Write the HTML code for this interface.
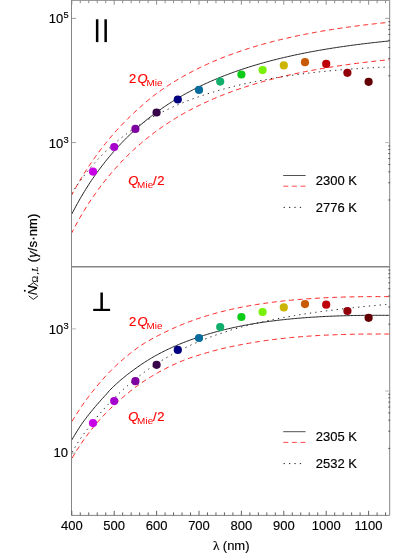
<!DOCTYPE html>
<html><head><meta charset="utf-8"><title>plot</title><style>html,body{margin:0;padding:0;background:#fff}body{width:415px;height:554px;overflow:hidden}</style></head><body>
<svg width="415" height="554" viewBox="0 0 415 554" style="display:block;will-change:transform;font-family:'Liberation Sans',sans-serif">
<rect width="415" height="554" fill="#fff"/>
<defs><clipPath id="ct"><rect x="71.5" y="0" width="318.2" height="266.7"/></clipPath><clipPath id="cb"><rect x="71.5" y="266.7" width="318.2" height="248.7"/></clipPath></defs>
<g clip-path="url(#ct)" fill="none">
<path d="M63.32,211.62 L64.72,208.72 L66.12,205.88 L67.52,203.09 L68.93,200.35 L70.33,197.66 L71.73,195.01 L73.13,192.41 L74.53,189.86 L75.93,187.35 L77.34,184.89 L78.74,182.46 L80.14,180.08 L81.54,177.74 L82.94,175.45 L84.34,173.19 L85.74,170.98 L87.15,168.81 L88.55,166.67 L89.95,164.57 L91.35,162.50 L92.75,160.47 L94.15,158.47 L95.55,156.51 L96.96,154.58 L98.36,152.68 L99.76,150.82 L101.16,148.98 L102.56,147.17 L103.96,145.39 L105.37,143.64 L106.77,141.91 L108.17,140.20 L109.57,138.51 L110.97,136.85 L112.37,135.21 L113.77,133.60 L115.18,132.01 L116.58,130.45 L117.98,128.90 L119.38,127.38 L120.78,125.88 L122.18,124.41 L123.58,122.95 L124.99,121.52 L126.39,120.11 L127.79,118.71 L129.19,117.34 L130.59,115.99 L131.99,114.65 L133.40,113.34 L134.80,112.04 L136.20,110.76 L137.60,109.48 L139.00,108.20 L140.40,106.93 L141.80,105.67 L143.21,104.42 L144.61,103.19 L146.01,101.97 L147.41,100.77 L148.81,99.59 L150.21,98.44 L151.61,97.31 L153.02,96.21 L154.42,95.14 L155.82,94.10 L157.22,93.07 L158.62,92.06 L160.02,91.07 L161.43,90.08 L162.83,89.11 L164.23,88.15 L165.63,87.21 L167.03,86.28 L168.43,85.36 L169.83,84.45 L171.24,83.56 L172.64,82.68 L174.04,81.81 L175.44,80.95 L176.84,80.10 L178.24,79.26 L179.65,78.44 L181.05,77.62 L182.45,76.82 L183.85,76.03 L185.25,75.24 L186.65,74.47 L188.05,73.71 L189.46,72.95 L190.86,72.21 L192.26,71.48 L193.66,70.75 L195.06,70.04 L196.46,69.33 L197.86,68.64 L199.27,67.95 L200.67,67.27 L202.07,66.60 L203.47,65.93 L204.87,65.28 L206.27,64.64 L207.68,64.00 L209.08,63.37 L210.48,62.75 L211.88,62.13 L213.28,61.53 L214.68,60.93 L216.08,60.34 L217.49,59.75 L218.89,59.18 L220.29,58.61 L221.69,58.04 L223.09,57.49 L224.49,56.94 L225.89,56.40 L227.30,55.86 L228.70,55.33 L230.10,54.81 L231.50,54.29 L232.90,53.78 L234.30,53.28 L235.71,52.78 L237.11,52.29 L238.51,51.80 L239.91,51.32 L241.31,50.85 L242.71,50.38 L244.11,49.92 L245.52,49.46 L246.92,49.01 L248.32,48.56 L249.72,48.12 L251.12,47.69 L252.52,47.26 L253.92,46.83 L255.33,46.41 L256.73,45.99 L258.13,45.58 L259.53,45.18 L260.93,44.78 L262.33,44.38 L263.74,43.99 L265.14,43.60 L266.54,43.22 L267.94,42.84 L269.34,42.47 L270.74,42.10 L272.14,41.73 L273.55,41.37 L274.95,41.01 L276.35,40.66 L277.75,40.31 L279.15,39.97 L280.55,39.63 L281.95,39.29 L283.36,38.96 L284.76,38.63 L286.16,38.31 L287.56,37.99 L288.96,37.67 L290.36,37.35 L291.77,37.04 L293.17,36.74 L294.57,36.43 L295.97,36.13 L297.37,35.84 L298.77,35.55 L300.17,35.26 L301.58,34.97 L302.98,34.69 L304.38,34.41 L305.78,34.13 L307.18,33.86 L308.58,33.59 L309.99,33.32 L311.39,33.06 L312.79,32.80 L314.19,32.54 L315.59,32.28 L316.99,32.03 L318.39,31.78 L319.80,31.54 L321.20,31.29 L322.60,31.05 L324.00,30.81 L325.40,30.58 L326.80,30.34 L328.20,30.11 L329.61,29.89 L331.01,29.66 L332.41,29.44 L333.81,29.22 L335.21,29.00 L336.61,28.79 L338.02,28.57 L339.42,28.36 L340.82,28.16 L342.22,27.95 L343.62,27.75 L345.02,27.55 L346.42,27.35 L347.83,27.15 L349.23,26.96 L350.63,26.77 L352.03,26.58 L353.43,26.39 L354.83,26.20 L356.23,26.02 L357.64,25.84 L359.04,25.66 L360.44,25.48 L361.84,25.31 L363.24,25.14 L364.64,24.96 L366.05,24.79 L367.45,24.63 L368.85,24.46 L370.25,24.30 L371.65,24.14 L373.05,23.98 L374.45,23.82 L375.86,23.66 L377.26,23.51 L378.66,23.36 L380.06,23.20 L381.46,23.06 L382.86,22.91 L384.26,22.76 L385.67,22.62 L387.07,22.47 L388.47,22.33 L389.87,22.19 L391.27,22.06 L392.67,21.92 L394.08,21.79 L395.48,21.65 L396.88,21.52 L398.28,21.39" stroke="#ff2020" stroke-width="1" stroke-dasharray="5 3.65"/>
<path d="M63.32,249.42 L64.72,246.52 L66.12,243.68 L67.52,240.89 L68.93,238.15 L70.33,235.46 L71.73,232.81 L73.13,230.18 L74.53,227.55 L75.93,224.93 L77.34,222.36 L78.74,219.83 L80.14,217.37 L81.54,214.97 L82.94,212.60 L84.34,210.28 L85.74,207.99 L87.15,205.75 L88.55,203.56 L89.95,201.41 L91.35,199.31 L92.75,197.26 L94.15,195.25 L95.55,193.27 L96.96,191.32 L98.36,189.40 L99.76,187.51 L101.16,185.66 L102.56,183.83 L103.96,182.03 L105.37,180.26 L106.77,178.52 L108.17,176.80 L109.57,175.11 L110.97,173.45 L112.37,171.81 L113.77,170.20 L115.18,168.62 L116.58,167.05 L117.98,165.51 L119.38,164.00 L120.78,162.51 L122.18,161.03 L123.58,159.59 L124.99,158.16 L126.39,156.75 L127.79,155.37 L129.19,154.00 L130.59,152.66 L131.99,151.33 L133.40,150.03 L134.80,148.74 L136.20,147.47 L137.60,146.22 L139.00,144.99 L140.40,143.78 L141.80,142.58 L143.21,141.40 L144.61,140.24 L146.01,139.09 L147.41,137.96 L148.81,136.84 L150.21,135.74 L151.61,134.66 L153.02,133.59 L154.42,132.54 L155.82,131.50 L157.22,130.47 L158.62,129.46 L160.02,128.47 L161.43,127.48 L162.83,126.51 L164.23,125.55 L165.63,124.61 L167.03,123.68 L168.43,122.76 L169.83,121.85 L171.24,120.96 L172.64,120.08 L174.04,119.21 L175.44,118.35 L176.84,117.50 L178.24,116.66 L179.65,115.84 L181.05,115.02 L182.45,114.22 L183.85,113.43 L185.25,112.64 L186.65,111.87 L188.05,111.11 L189.46,110.35 L190.86,109.61 L192.26,108.88 L193.66,108.15 L195.06,107.44 L196.46,106.73 L197.86,106.04 L199.27,105.35 L200.67,104.67 L202.07,104.00 L203.47,103.33 L204.87,102.68 L206.27,102.04 L207.68,101.40 L209.08,100.77 L210.48,100.15 L211.88,99.53 L213.28,98.93 L214.68,98.33 L216.08,97.74 L217.49,97.15 L218.89,96.58 L220.29,96.01 L221.69,95.44 L223.09,94.89 L224.49,94.34 L225.89,93.80 L227.30,93.26 L228.70,92.73 L230.10,92.21 L231.50,91.69 L232.90,91.18 L234.30,90.68 L235.71,90.18 L237.11,89.69 L238.51,89.20 L239.91,88.72 L241.31,88.25 L242.71,87.78 L244.11,87.32 L245.52,86.86 L246.92,86.41 L248.32,85.96 L249.72,85.52 L251.12,85.09 L252.52,84.66 L253.92,84.23 L255.33,83.81 L256.73,83.39 L258.13,82.98 L259.53,82.58 L260.93,82.18 L262.33,81.78 L263.74,81.39 L265.14,81.00 L266.54,80.62 L267.94,80.24 L269.34,79.87 L270.74,79.50 L272.14,79.13 L273.55,78.77 L274.95,78.41 L276.35,78.06 L277.75,77.71 L279.15,77.37 L280.55,77.03 L281.95,76.69 L283.36,76.36 L284.76,76.03 L286.16,75.71 L287.56,75.39 L288.96,75.07 L290.36,74.75 L291.77,74.44 L293.17,74.14 L294.57,73.83 L295.97,73.53 L297.37,73.24 L298.77,72.95 L300.17,72.66 L301.58,72.37 L302.98,72.09 L304.38,71.81 L305.78,71.53 L307.18,71.26 L308.58,70.99 L309.99,70.72 L311.39,70.46 L312.79,70.20 L314.19,69.94 L315.59,69.68 L316.99,69.43 L318.39,69.18 L319.80,68.94 L321.20,68.69 L322.60,68.45 L324.00,68.21 L325.40,67.98 L326.80,67.74 L328.20,67.51 L329.61,67.29 L331.01,67.06 L332.41,66.84 L333.81,66.62 L335.21,66.40 L336.61,66.19 L338.02,65.97 L339.42,65.76 L340.82,65.56 L342.22,65.35 L343.62,65.15 L345.02,64.95 L346.42,64.75 L347.83,64.55 L349.23,64.36 L350.63,64.17 L352.03,63.98 L353.43,63.79 L354.83,63.60 L356.23,63.42 L357.64,63.24 L359.04,63.06 L360.44,62.88 L361.84,62.71 L363.24,62.54 L364.64,62.36 L366.05,62.19 L367.45,62.03 L368.85,61.86 L370.25,61.70 L371.65,61.54 L373.05,61.38 L374.45,61.22 L375.86,61.06 L377.26,60.91 L378.66,60.76 L380.06,60.60 L381.46,60.46 L382.86,60.31 L384.26,60.16 L385.67,60.02 L387.07,59.87 L388.47,59.73 L389.87,59.59 L391.27,59.46 L392.67,59.32 L394.08,59.19 L395.48,59.05 L396.88,58.92 L398.28,58.79" stroke="#ff2020" stroke-width="1" stroke-dasharray="5 3.65"/>
<path d="M63.32,207.65 L64.72,205.13 L66.12,202.68 L67.52,200.28 L68.93,197.94 L70.33,195.65 L71.73,193.41 L73.13,191.23 L74.53,189.09 L75.93,186.99 L77.34,184.95 L78.74,182.94 L80.14,180.98 L81.54,179.07 L82.94,177.19 L84.34,175.35 L85.74,173.55 L87.15,171.78 L88.55,170.05 L89.95,168.36 L91.35,166.70 L92.75,165.07 L94.15,163.48 L95.55,161.91 L96.96,160.38 L98.36,158.87 L99.76,157.40 L101.16,155.95 L102.56,154.53 L103.96,153.13 L105.37,151.76 L106.77,150.42 L108.17,149.10 L109.57,147.80 L110.97,146.53 L112.37,145.28 L113.77,144.05 L115.18,142.85 L116.58,141.66 L117.98,140.50 L119.38,139.35 L120.78,138.23 L122.18,137.12 L123.58,136.03 L124.99,134.96 L126.39,133.91 L127.79,132.88 L129.19,131.86 L130.59,130.86 L131.99,129.88 L133.40,128.91 L134.80,127.95 L136.20,127.02 L137.60,126.09 L139.00,125.19 L140.40,124.29 L141.80,123.41 L143.21,122.55 L144.61,121.69 L146.01,120.85 L147.41,120.03 L148.81,119.21 L150.21,118.41 L151.61,117.62 L153.02,116.84 L154.42,116.08 L155.82,115.32 L157.22,114.58 L158.62,113.85 L160.02,113.13 L161.43,112.41 L162.83,111.71 L164.23,111.02 L165.63,110.34 L167.03,109.67 L168.43,109.01 L169.83,108.36 L171.24,107.72 L172.64,107.08 L174.04,106.46 L175.44,105.84 L176.84,105.24 L178.24,104.64 L179.65,104.05 L181.05,103.46 L182.45,102.89 L183.85,102.32 L185.25,101.77 L186.65,101.22 L188.05,100.67 L189.46,100.14 L190.86,99.61 L192.26,99.09 L193.66,98.57 L195.06,98.07 L196.46,97.57 L197.86,97.07 L199.27,96.59 L200.67,96.11 L202.07,95.63 L203.47,95.16 L204.87,94.70 L206.27,94.25 L207.68,93.80 L209.08,93.35 L210.48,92.92 L211.88,92.49 L213.28,92.06 L214.68,91.64 L216.08,91.22 L217.49,90.82 L218.89,90.41 L220.29,90.01 L221.69,89.62 L223.09,89.23 L224.49,88.85 L225.89,88.47 L227.30,88.10 L228.70,87.73 L230.10,87.37 L231.50,87.01 L232.90,86.65 L234.30,86.30 L235.71,85.96 L237.11,85.62 L238.51,85.28 L239.91,84.95 L241.31,84.62 L242.71,84.30 L244.11,83.98 L245.52,83.67 L246.92,83.36 L248.32,83.05 L249.72,82.75 L251.12,82.45 L252.52,82.15 L253.92,81.86 L255.33,81.58 L256.73,81.29 L258.13,81.01 L259.53,80.74 L260.93,80.47 L262.33,80.20 L263.74,79.93 L265.14,79.67 L266.54,79.41 L267.94,79.16 L269.34,78.91 L270.74,78.66 L272.14,78.42 L273.55,78.18 L274.95,77.94 L276.35,77.70 L277.75,77.47 L279.15,77.24 L280.55,77.02 L281.95,76.80 L283.36,76.58 L284.76,76.36 L286.16,76.15 L287.56,75.94 L288.96,75.73 L290.36,75.53 L291.77,75.32 L293.17,75.13 L294.57,74.93 L295.97,74.74 L297.37,74.55 L298.77,74.36 L300.17,74.17 L301.58,73.99 L302.98,73.81 L304.38,73.63 L305.78,73.46 L307.18,73.29 L308.58,73.12 L309.99,72.95 L311.39,72.79 L312.79,72.62 L314.19,72.46 L315.59,72.31 L316.99,72.15 L318.39,72.00 L319.80,71.85 L321.20,71.70 L322.60,71.56 L324.00,71.41 L325.40,71.27 L326.80,71.13 L328.20,71.00 L329.61,70.86 L331.01,70.73 L332.41,70.60 L333.81,70.47 L335.21,70.35 L336.61,70.22 L338.02,70.10 L339.42,69.98 L340.82,69.86 L342.22,69.75 L343.62,69.64 L345.02,69.52 L346.42,69.41 L347.83,69.31 L349.23,69.20 L350.63,69.10 L352.03,69.00 L353.43,68.90 L354.83,68.80 L356.23,68.70 L357.64,68.61 L359.04,68.51 L360.44,68.42 L361.84,68.34 L363.24,68.25 L364.64,68.16 L366.05,68.08 L367.45,68.00 L368.85,67.92 L370.25,67.84 L371.65,67.76 L373.05,67.69 L374.45,67.61 L375.86,67.54 L377.26,67.47 L378.66,67.40 L380.06,67.34 L381.46,67.27 L382.86,67.21 L384.26,67.15 L385.67,67.09 L387.07,67.03 L388.47,66.97 L389.87,66.92 L391.27,66.86 L392.67,66.81 L394.08,66.76 L395.48,66.71 L396.88,66.66 L398.28,66.61" stroke="#222" stroke-width="1" stroke-dasharray="1.3 4.1"/>
<path d="M63.32,230.72 L64.72,227.82 L66.12,224.98 L67.52,222.19 L68.93,219.45 L70.33,216.76 L71.73,214.11 L73.13,211.48 L74.53,208.85 L75.93,206.23 L77.34,203.66 L78.74,201.13 L80.14,198.67 L81.54,196.27 L82.94,193.90 L84.34,191.58 L85.74,189.29 L87.15,187.05 L88.55,184.86 L89.95,182.71 L91.35,180.61 L92.75,178.56 L94.15,176.55 L95.55,174.57 L96.96,172.62 L98.36,170.70 L99.76,168.81 L101.16,166.96 L102.56,165.13 L103.96,163.33 L105.37,161.56 L106.77,159.82 L108.17,158.10 L109.57,156.41 L110.97,154.75 L112.37,153.11 L113.77,151.50 L115.18,149.92 L116.58,148.35 L117.98,146.81 L119.38,145.30 L120.78,143.81 L122.18,142.33 L123.58,140.89 L124.99,139.46 L126.39,138.05 L127.79,136.67 L129.19,135.30 L130.59,133.96 L131.99,132.63 L133.40,131.33 L134.80,130.04 L136.20,128.77 L137.60,127.52 L139.00,126.29 L140.40,125.08 L141.80,123.88 L143.21,122.70 L144.61,121.54 L146.01,120.39 L147.41,119.26 L148.81,118.14 L150.21,117.04 L151.61,115.96 L153.02,114.89 L154.42,113.84 L155.82,112.80 L157.22,111.77 L158.62,110.76 L160.02,109.77 L161.43,108.78 L162.83,107.81 L164.23,106.85 L165.63,105.91 L167.03,104.98 L168.43,104.06 L169.83,103.15 L171.24,102.26 L172.64,101.38 L174.04,100.51 L175.44,99.65 L176.84,98.80 L178.24,97.96 L179.65,97.14 L181.05,96.32 L182.45,95.52 L183.85,94.73 L185.25,93.94 L186.65,93.17 L188.05,92.41 L189.46,91.65 L190.86,90.91 L192.26,90.18 L193.66,89.45 L195.06,88.74 L196.46,88.03 L197.86,87.34 L199.27,86.65 L200.67,85.97 L202.07,85.30 L203.47,84.63 L204.87,83.98 L206.27,83.34 L207.68,82.70 L209.08,82.07 L210.48,81.45 L211.88,80.83 L213.28,80.23 L214.68,79.63 L216.08,79.04 L217.49,78.45 L218.89,77.88 L220.29,77.31 L221.69,76.74 L223.09,76.19 L224.49,75.64 L225.89,75.10 L227.30,74.56 L228.70,74.03 L230.10,73.51 L231.50,72.99 L232.90,72.48 L234.30,71.98 L235.71,71.48 L237.11,70.99 L238.51,70.50 L239.91,70.02 L241.31,69.55 L242.71,69.08 L244.11,68.62 L245.52,68.16 L246.92,67.71 L248.32,67.26 L249.72,66.82 L251.12,66.39 L252.52,65.96 L253.92,65.53 L255.33,65.11 L256.73,64.69 L258.13,64.28 L259.53,63.88 L260.93,63.48 L262.33,63.08 L263.74,62.69 L265.14,62.30 L266.54,61.92 L267.94,61.54 L269.34,61.17 L270.74,60.80 L272.14,60.43 L273.55,60.07 L274.95,59.71 L276.35,59.36 L277.75,59.01 L279.15,58.67 L280.55,58.33 L281.95,57.99 L283.36,57.66 L284.76,57.33 L286.16,57.01 L287.56,56.69 L288.96,56.37 L290.36,56.05 L291.77,55.74 L293.17,55.44 L294.57,55.13 L295.97,54.83 L297.37,54.54 L298.77,54.25 L300.17,53.96 L301.58,53.67 L302.98,53.39 L304.38,53.11 L305.78,52.83 L307.18,52.56 L308.58,52.29 L309.99,52.02 L311.39,51.76 L312.79,51.50 L314.19,51.24 L315.59,50.98 L316.99,50.73 L318.39,50.48 L319.80,50.24 L321.20,49.99 L322.60,49.75 L324.00,49.51 L325.40,49.28 L326.80,49.04 L328.20,48.81 L329.61,48.59 L331.01,48.36 L332.41,48.14 L333.81,47.92 L335.21,47.70 L336.61,47.49 L338.02,47.27 L339.42,47.06 L340.82,46.86 L342.22,46.65 L343.62,46.45 L345.02,46.25 L346.42,46.05 L347.83,45.85 L349.23,45.66 L350.63,45.47 L352.03,45.28 L353.43,45.09 L354.83,44.90 L356.23,44.72 L357.64,44.54 L359.04,44.36 L360.44,44.18 L361.84,44.01 L363.24,43.84 L364.64,43.66 L366.05,43.49 L367.45,43.33 L368.85,43.16 L370.25,43.00 L371.65,42.84 L373.05,42.68 L374.45,42.52 L375.86,42.36 L377.26,42.21 L378.66,42.06 L380.06,41.90 L381.46,41.76 L382.86,41.61 L384.26,41.46 L385.67,41.32 L387.07,41.17 L388.47,41.03 L389.87,40.89 L391.27,40.76 L392.67,40.62 L394.08,40.49 L395.48,40.35 L396.88,40.22 L398.28,40.09" stroke="#222" stroke-width="1"/>
</g>
<g clip-path="url(#cb)" fill="none">
<path d="M63.32,436.26 L64.72,433.75 L66.12,431.28 L67.52,428.86 L68.93,426.48 L70.33,424.15 L71.73,421.87 L73.13,419.60 L74.53,417.34 L75.93,415.09 L77.34,412.87 L78.74,410.69 L80.14,408.54 L81.54,406.46 L82.94,404.42 L84.34,402.44 L85.74,400.49 L87.15,398.57 L88.55,396.70 L89.95,394.86 L91.35,393.05 L92.75,391.27 L94.15,389.53 L95.55,387.81 L96.96,386.12 L98.36,384.45 L99.76,382.81 L101.16,381.19 L102.56,379.58 L103.96,377.99 L105.37,376.42 L106.77,374.88 L108.17,373.38 L109.57,371.92 L110.97,370.50 L112.37,369.10 L113.77,367.74 L115.18,366.40 L116.58,365.08 L117.98,363.80 L119.38,362.53 L120.78,361.28 L122.18,360.06 L123.58,358.86 L124.99,357.67 L126.39,356.50 L127.79,355.35 L129.19,354.21 L130.59,353.09 L131.99,351.99 L133.40,350.91 L134.80,349.85 L136.20,348.81 L137.60,347.80 L139.00,346.80 L140.40,345.83 L141.80,344.89 L143.21,343.98 L144.61,343.11 L146.01,342.28 L147.41,341.48 L148.81,340.68 L150.21,339.88 L151.61,339.09 L153.02,338.32 L154.42,337.56 L155.82,336.81 L157.22,336.07 L158.62,335.35 L160.02,334.64 L161.43,333.93 L162.83,333.24 L164.23,332.55 L165.63,331.88 L167.03,331.20 L168.43,330.54 L169.83,329.88 L171.24,329.23 L172.64,328.59 L174.04,327.96 L175.44,327.34 L176.84,326.73 L178.24,326.13 L179.65,325.54 L181.05,324.96 L182.45,324.39 L183.85,323.83 L185.25,323.27 L186.65,322.73 L188.05,322.19 L189.46,321.67 L190.86,321.15 L192.26,320.64 L193.66,320.14 L195.06,319.64 L196.46,319.15 L197.86,318.68 L199.27,318.21 L200.67,317.74 L202.07,317.29 L203.47,316.84 L204.87,316.40 L206.27,315.96 L207.68,315.54 L209.08,315.12 L210.48,314.71 L211.88,314.30 L213.28,313.91 L214.68,313.52 L216.08,313.13 L217.49,312.75 L218.89,312.38 L220.29,312.02 L221.69,311.66 L223.09,311.31 L224.49,310.96 L225.89,310.62 L227.30,310.29 L228.70,309.96 L230.10,309.64 L231.50,309.32 L232.90,309.01 L234.30,308.71 L235.71,308.41 L237.11,308.11 L238.51,307.82 L239.91,307.54 L241.31,307.26 L242.71,306.99 L244.11,306.72 L245.52,306.46 L246.92,306.20 L248.32,305.94 L249.72,305.69 L251.12,305.45 L252.52,305.21 L253.92,304.97 L255.33,304.74 L256.73,304.52 L258.13,304.29 L259.53,304.08 L260.93,303.86 L262.33,303.65 L263.74,303.45 L265.14,303.25 L266.54,303.05 L267.94,302.86 L269.34,302.67 L270.74,302.48 L272.14,302.30 L273.55,302.12 L274.95,301.95 L276.35,301.78 L277.75,301.61 L279.15,301.44 L280.55,301.28 L281.95,301.13 L283.36,300.98 L284.76,300.83 L286.16,300.68 L287.56,300.54 L288.96,300.40 L290.36,300.26 L291.77,300.13 L293.17,299.99 L294.57,299.87 L295.97,299.74 L297.37,299.62 L298.77,299.50 L300.17,299.39 L301.58,299.27 L302.98,299.16 L304.38,299.06 L305.78,298.95 L307.18,298.85 L308.58,298.75 L309.99,298.66 L311.39,298.56 L312.79,298.47 L314.19,298.38 L315.59,298.30 L316.99,298.21 L318.39,298.13 L319.80,298.05 L321.20,297.98 L322.60,297.90 L324.00,297.83 L325.40,297.76 L326.80,297.70 L328.20,297.63 L329.61,297.57 L331.01,297.51 L332.41,297.45 L333.81,297.40 L335.21,297.34 L336.61,297.29 L338.02,297.24 L339.42,297.19 L340.82,297.15 L342.22,297.11 L343.62,297.06 L345.02,297.02 L346.42,296.99 L347.83,296.95 L349.23,296.92 L350.63,296.89 L352.03,296.86 L353.43,296.83 L354.83,296.80 L356.23,296.78 L357.64,296.75 L359.04,296.73 L360.44,296.71 L361.84,296.69 L363.24,296.68 L364.64,296.66 L366.05,296.65 L367.45,296.64 L368.85,296.63 L370.25,296.62 L371.65,296.61 L373.05,296.61 L374.45,296.60 L375.86,296.60 L377.26,296.60 L378.66,296.60 L380.06,296.60 L381.46,296.61 L382.86,296.61 L384.26,296.62 L385.67,296.63 L387.07,296.64 L388.47,296.65 L389.87,296.66 L391.27,296.67 L392.67,296.68 L394.08,296.70 L395.48,296.72 L396.88,296.73 L398.28,296.75" stroke="#ff2020" stroke-width="1" stroke-dasharray="5 3.65"/>
<path d="M63.32,473.06 L64.72,470.55 L66.12,468.08 L67.52,465.66 L68.93,463.28 L70.33,460.95 L71.73,458.67 L73.13,456.39 L74.53,454.10 L75.93,451.81 L77.34,449.55 L78.74,447.33 L80.14,445.16 L81.54,443.06 L82.94,441.02 L84.34,439.03 L85.74,437.07 L87.15,435.15 L88.55,433.27 L89.95,431.43 L91.35,429.64 L92.75,427.89 L94.15,426.19 L95.55,424.52 L96.96,422.88 L98.36,421.28 L99.76,419.70 L101.16,418.15 L102.56,416.62 L103.96,415.13 L105.37,413.66 L106.77,412.21 L108.17,410.79 L109.57,409.40 L110.97,408.03 L112.37,406.69 L113.77,405.36 L115.18,404.06 L116.58,402.79 L117.98,401.53 L119.38,400.30 L120.78,399.08 L122.18,397.89 L123.58,396.70 L124.99,395.53 L126.39,394.36 L127.79,393.21 L129.19,392.07 L130.59,390.95 L131.99,389.84 L133.40,388.76 L134.80,387.69 L136.20,386.64 L137.60,385.61 L139.00,384.60 L140.40,383.62 L141.80,382.65 L143.21,381.71 L144.61,380.77 L146.01,379.86 L147.41,378.96 L148.81,378.07 L150.21,377.20 L151.61,376.35 L153.02,375.51 L154.42,374.68 L155.82,373.87 L157.22,373.08 L158.62,372.29 L160.02,371.52 L161.43,370.77 L162.83,370.02 L164.23,369.29 L165.63,368.57 L167.03,367.86 L168.43,367.16 L169.83,366.48 L171.24,365.80 L172.64,365.14 L174.04,364.49 L175.44,363.85 L176.84,363.22 L178.24,362.61 L179.65,362.00 L181.05,361.41 L182.45,360.83 L183.85,360.26 L185.25,359.70 L186.65,359.16 L188.05,358.64 L189.46,358.15 L190.86,357.67 L192.26,357.20 L193.66,356.75 L195.06,356.30 L196.46,355.86 L197.86,355.42 L199.27,354.99 L200.67,354.55 L202.07,354.12 L203.47,353.70 L204.87,353.29 L206.27,352.88 L207.68,352.47 L209.08,352.07 L210.48,351.68 L211.88,351.30 L213.28,350.92 L214.68,350.55 L216.08,350.18 L217.49,349.82 L218.89,349.47 L220.29,349.12 L221.69,348.78 L223.09,348.45 L224.49,348.12 L225.89,347.80 L227.30,347.49 L228.70,347.18 L230.10,346.87 L231.50,346.58 L232.90,346.28 L234.30,346.00 L235.71,345.71 L237.11,345.43 L238.51,345.16 L239.91,344.89 L241.31,344.62 L242.71,344.36 L244.11,344.10 L245.52,343.85 L246.92,343.59 L248.32,343.34 L249.72,343.09 L251.12,342.85 L252.52,342.61 L253.92,342.37 L255.33,342.14 L256.73,341.92 L258.13,341.69 L259.53,341.48 L260.93,341.26 L262.33,341.05 L263.74,340.85 L265.14,340.65 L266.54,340.45 L267.94,340.26 L269.34,340.07 L270.74,339.88 L272.14,339.70 L273.55,339.52 L274.95,339.35 L276.35,339.18 L277.75,339.01 L279.15,338.84 L280.55,338.68 L281.95,338.53 L283.36,338.38 L284.76,338.23 L286.16,338.08 L287.56,337.94 L288.96,337.80 L290.36,337.66 L291.77,337.53 L293.17,337.39 L294.57,337.27 L295.97,337.14 L297.37,337.02 L298.77,336.90 L300.17,336.79 L301.58,336.67 L302.98,336.56 L304.38,336.46 L305.78,336.35 L307.18,336.25 L308.58,336.15 L309.99,336.06 L311.39,335.96 L312.79,335.87 L314.19,335.78 L315.59,335.70 L316.99,335.61 L318.39,335.53 L319.80,335.45 L321.20,335.38 L322.60,335.30 L324.00,335.23 L325.40,335.16 L326.80,335.10 L328.20,335.03 L329.61,334.97 L331.01,334.91 L332.41,334.85 L333.81,334.80 L335.21,334.74 L336.61,334.69 L338.02,334.64 L339.42,334.59 L340.82,334.55 L342.22,334.51 L343.62,334.46 L345.02,334.42 L346.42,334.39 L347.83,334.35 L349.23,334.32 L350.63,334.29 L352.03,334.26 L353.43,334.23 L354.83,334.20 L356.23,334.18 L357.64,334.15 L359.04,334.13 L360.44,334.11 L361.84,334.09 L363.24,334.08 L364.64,334.06 L366.05,334.05 L367.45,334.04 L368.85,334.03 L370.25,334.02 L371.65,334.01 L373.05,334.01 L374.45,334.00 L375.86,334.00 L377.26,334.00 L378.66,334.00 L380.06,334.00 L381.46,334.01 L382.86,334.01 L384.26,334.02 L385.67,334.03 L387.07,334.04 L388.47,334.05 L389.87,334.06 L391.27,334.07 L392.67,334.08 L394.08,334.10 L395.48,334.12 L396.88,334.13 L398.28,334.15" stroke="#ff2020" stroke-width="1" stroke-dasharray="5 3.65"/>
<path d="M63.32,465.96 L64.72,463.71 L66.12,461.50 L67.52,459.30 L68.93,457.13 L70.33,454.99 L71.73,452.86 L73.13,450.50 L74.53,448.04 L75.93,445.71 L77.34,443.43 L78.74,441.23 L80.14,439.10 L81.54,437.11 L82.94,435.17 L84.34,433.26 L85.74,431.38 L87.15,429.51 L88.55,427.66 L89.95,425.82 L91.35,424.01 L92.75,422.22 L94.15,420.45 L95.55,418.71 L96.96,417.00 L98.36,415.32 L99.76,413.68 L101.16,412.07 L102.56,410.48 L103.96,408.92 L105.37,407.38 L106.77,405.85 L108.17,404.35 L109.57,402.87 L110.97,401.41 L112.37,399.97 L113.77,398.56 L115.18,397.16 L116.58,395.78 L117.98,394.42 L119.38,393.08 L120.78,391.76 L122.18,390.46 L123.58,389.18 L124.99,387.91 L126.39,386.66 L127.79,385.44 L129.19,384.22 L130.59,383.03 L131.99,381.85 L133.40,380.69 L134.80,379.55 L136.20,378.43 L137.60,377.31 L139.00,376.22 L140.40,375.14 L141.80,374.08 L143.21,373.03 L144.61,372.00 L146.01,370.98 L147.41,369.98 L148.81,368.99 L150.21,368.01 L151.61,367.05 L153.02,366.11 L154.42,365.17 L155.82,364.25 L157.22,363.35 L158.62,362.45 L160.02,361.57 L161.43,360.71 L162.83,359.85 L164.23,359.01 L165.63,358.18 L167.03,357.36 L168.43,356.55 L169.83,355.75 L171.24,354.97 L172.64,354.20 L174.04,353.43 L175.44,352.68 L176.84,351.94 L178.24,351.21 L179.65,350.49 L181.05,349.78 L182.45,349.09 L183.85,348.40 L185.25,347.72 L186.65,347.05 L188.05,346.39 L189.46,345.74 L190.86,345.09 L192.26,344.46 L193.66,343.84 L195.06,343.22 L196.46,342.62 L197.86,342.02 L199.27,341.43 L200.67,340.85 L202.07,340.28 L203.47,339.71 L204.87,339.16 L206.27,338.61 L207.68,338.07 L209.08,337.53 L210.48,337.01 L211.88,336.49 L213.28,335.98 L214.68,335.47 L216.08,334.97 L217.49,334.48 L218.89,334.00 L220.29,333.52 L221.69,333.05 L223.09,332.59 L224.49,332.13 L225.89,331.68 L227.30,331.23 L228.70,330.79 L230.10,330.36 L231.50,329.93 L232.90,329.51 L234.30,329.10 L235.71,328.69 L237.11,328.28 L238.51,327.88 L239.91,327.49 L241.31,327.10 L242.71,326.72 L244.11,326.34 L245.52,325.97 L246.92,325.60 L248.32,325.24 L249.72,324.88 L251.12,324.53 L252.52,324.18 L253.92,323.83 L255.33,323.49 L256.73,323.16 L258.13,322.83 L259.53,322.50 L260.93,322.18 L262.33,321.86 L263.74,321.55 L265.14,321.24 L266.54,320.93 L267.94,320.63 L269.34,320.33 L270.74,320.04 L272.14,319.75 L273.55,319.46 L274.95,319.18 L276.35,318.90 L277.75,318.62 L279.15,318.35 L280.55,318.08 L281.95,317.82 L283.36,317.55 L284.76,317.29 L286.16,317.04 L287.56,316.79 L288.96,316.54 L290.36,316.29 L291.77,316.05 L293.17,315.81 L294.57,315.57 L295.97,315.33 L297.37,315.10 L298.77,314.87 L300.17,314.64 L301.58,314.42 L302.98,314.20 L304.38,313.98 L305.78,313.76 L307.18,313.55 L308.58,313.34 L309.99,313.13 L311.39,312.92 L312.79,312.72 L314.19,312.52 L315.59,312.32 L316.99,312.12 L318.39,311.93 L319.80,311.73 L321.20,311.54 L322.60,311.35 L324.00,311.17 L325.40,310.98 L326.80,310.80 L328.20,310.62 L329.61,310.44 L331.01,310.26 L332.41,310.09 L333.81,309.91 L335.21,309.74 L336.61,309.57 L338.02,309.40 L339.42,309.24 L340.82,309.07 L342.22,308.91 L343.62,308.75 L345.02,308.59 L346.42,308.43 L347.83,308.27 L349.23,308.12 L350.63,307.96 L352.03,307.81 L353.43,307.66 L354.83,307.51 L356.23,307.36 L357.64,307.21 L359.04,307.07 L360.44,306.92 L361.84,306.78 L363.24,306.63 L364.64,306.49 L366.05,306.35 L367.45,306.21 L368.85,306.08 L370.25,305.94 L371.65,305.81 L373.05,305.67 L374.45,305.54 L375.86,305.41 L377.26,305.27 L378.66,305.14 L380.06,305.01 L381.46,304.89 L382.86,304.76 L384.26,304.63 L385.67,304.51 L387.07,304.38 L388.47,304.26 L389.87,304.13 L391.27,304.01 L392.67,303.89 L394.08,303.77 L395.48,303.65 L396.88,303.53 L398.28,303.41" stroke="#222" stroke-width="1" stroke-dasharray="1.3 4.1"/>
<path d="M63.32,454.36 L64.72,451.85 L66.12,449.38 L67.52,446.96 L68.93,444.58 L70.33,442.25 L71.73,439.97 L73.13,437.67 L74.53,435.35 L75.93,433.02 L77.34,430.73 L78.74,428.48 L80.14,426.31 L81.54,424.24 L82.94,422.27 L84.34,420.36 L85.74,418.49 L87.15,416.67 L88.55,414.88 L89.95,413.12 L91.35,411.39 L92.75,409.68 L94.15,407.99 L95.55,406.32 L96.96,404.68 L98.36,403.06 L99.76,401.47 L101.16,399.90 L102.56,398.35 L103.96,396.83 L105.37,395.32 L106.77,393.79 L108.17,392.08 L109.57,390.43 L110.97,389.01 L112.37,387.65 L113.77,386.31 L115.18,384.99 L116.58,383.70 L117.98,382.44 L119.38,381.20 L120.78,379.99 L122.18,378.79 L123.58,377.63 L124.99,376.49 L126.39,375.37 L127.79,374.27 L129.19,373.20 L130.59,372.14 L131.99,371.09 L133.40,370.06 L134.80,369.04 L136.20,368.03 L137.60,367.04 L139.00,366.06 L140.40,365.09 L141.80,364.14 L143.21,363.20 L144.61,362.28 L146.01,361.38 L147.41,360.50 L148.81,359.63 L150.21,358.78 L151.61,357.95 L153.02,357.13 L154.42,356.33 L155.82,355.54 L157.22,354.77 L158.62,354.02 L160.02,353.28 L161.43,352.55 L162.83,351.83 L164.23,351.13 L165.63,350.44 L167.03,349.76 L168.43,349.09 L169.83,348.44 L171.24,347.79 L172.64,347.15 L174.04,346.53 L175.44,345.91 L176.84,345.31 L178.24,344.71 L179.65,344.13 L181.05,343.56 L182.45,343.00 L183.85,342.44 L185.25,341.90 L186.65,341.37 L188.05,340.84 L189.46,340.32 L190.86,339.81 L192.26,339.31 L193.66,338.82 L195.06,338.33 L196.46,337.85 L197.86,337.37 L199.27,336.90 L200.67,336.44 L202.07,335.99 L203.47,335.54 L204.87,335.10 L206.27,334.66 L207.68,334.24 L209.08,333.82 L210.48,333.41 L211.88,333.00 L213.28,332.61 L214.68,332.22 L216.08,331.83 L217.49,331.45 L218.89,331.08 L220.29,330.72 L221.69,330.36 L223.09,330.01 L224.49,329.66 L225.89,329.32 L227.30,328.99 L228.70,328.66 L230.10,328.34 L231.50,328.02 L232.90,327.71 L234.30,327.41 L235.71,327.11 L237.11,326.81 L238.51,326.52 L239.91,326.24 L241.31,325.96 L242.71,325.69 L244.11,325.42 L245.52,325.16 L246.92,324.90 L248.32,324.64 L249.72,324.39 L251.12,324.15 L252.52,323.91 L253.92,323.67 L255.33,323.44 L256.73,323.22 L258.13,322.99 L259.53,322.78 L260.93,322.56 L262.33,322.35 L263.74,322.15 L265.14,321.95 L266.54,321.75 L267.94,321.56 L269.34,321.37 L270.74,321.18 L272.14,321.00 L273.55,320.82 L274.95,320.65 L276.35,320.48 L277.75,320.31 L279.15,320.14 L280.55,319.98 L281.95,319.83 L283.36,319.68 L284.76,319.53 L286.16,319.38 L287.56,319.24 L288.96,319.10 L290.36,318.96 L291.77,318.83 L293.17,318.69 L294.57,318.57 L295.97,318.44 L297.37,318.32 L298.77,318.20 L300.17,318.09 L301.58,317.97 L302.98,317.86 L304.38,317.76 L305.78,317.65 L307.18,317.55 L308.58,317.45 L309.99,317.36 L311.39,317.26 L312.79,317.17 L314.19,317.08 L315.59,317.00 L316.99,316.91 L318.39,316.83 L319.80,316.75 L321.20,316.68 L322.60,316.60 L324.00,316.53 L325.40,316.46 L326.80,316.40 L328.20,316.33 L329.61,316.27 L331.01,316.21 L332.41,316.15 L333.81,316.10 L335.21,316.04 L336.61,315.99 L338.02,315.94 L339.42,315.89 L340.82,315.85 L342.22,315.81 L343.62,315.76 L345.02,315.72 L346.42,315.69 L347.83,315.65 L349.23,315.62 L350.63,315.59 L352.03,315.56 L353.43,315.53 L354.83,315.50 L356.23,315.48 L357.64,315.45 L359.04,315.43 L360.44,315.41 L361.84,315.39 L363.24,315.38 L364.64,315.36 L366.05,315.35 L367.45,315.34 L368.85,315.33 L370.25,315.32 L371.65,315.31 L373.05,315.31 L374.45,315.30 L375.86,315.30 L377.26,315.30 L378.66,315.30 L380.06,315.30 L381.46,315.31 L382.86,315.31 L384.26,315.32 L385.67,315.33 L387.07,315.34 L388.47,315.35 L389.87,315.36 L391.27,315.37 L392.67,315.38 L394.08,315.40 L395.48,315.42 L396.88,315.43 L398.28,315.45" stroke="#222" stroke-width="1"/>
</g>
<circle cx="93.00" cy="171.60" r="4.1" fill="#c800e6"/>
<circle cx="114.20" cy="147.00" r="4.1" fill="#a600cc"/>
<circle cx="135.40" cy="128.90" r="4.1" fill="#7d00a0"/>
<circle cx="156.60" cy="112.50" r="4.1" fill="#380548"/>
<circle cx="177.80" cy="99.50" r="4.1" fill="#000080"/>
<circle cx="199.00" cy="89.90" r="4.1" fill="#086c9c"/>
<circle cx="220.20" cy="81.60" r="4.1" fill="#10b06c"/>
<circle cx="241.40" cy="74.50" r="4.1" fill="#0ccc18"/>
<circle cx="262.60" cy="70.10" r="4.1" fill="#78f008"/>
<circle cx="283.80" cy="65.40" r="4.1" fill="#ccb404"/>
<circle cx="305.00" cy="62.20" r="4.1" fill="#c85a04"/>
<circle cx="326.20" cy="63.90" r="4.1" fill="#c00008"/>
<circle cx="347.40" cy="72.80" r="4.1" fill="#92000c"/>
<circle cx="368.60" cy="81.80" r="4.1" fill="#620004"/>
<circle cx="93.00" cy="423.10" r="4.1" fill="#c800e6"/>
<circle cx="114.20" cy="401.10" r="4.1" fill="#a600cc"/>
<circle cx="135.40" cy="381.20" r="4.1" fill="#7d00a0"/>
<circle cx="156.60" cy="364.80" r="4.1" fill="#380548"/>
<circle cx="177.80" cy="349.90" r="4.1" fill="#000080"/>
<circle cx="199.00" cy="338.00" r="4.1" fill="#086c9c"/>
<circle cx="220.20" cy="327.10" r="4.1" fill="#10b06c"/>
<circle cx="241.40" cy="317.00" r="4.1" fill="#0ccc18"/>
<circle cx="262.60" cy="312.00" r="4.1" fill="#78f008"/>
<circle cx="283.80" cy="307.40" r="4.1" fill="#ccb404"/>
<circle cx="305.00" cy="304.10" r="4.1" fill="#c85a04"/>
<circle cx="326.20" cy="304.70" r="4.1" fill="#c00008"/>
<circle cx="347.40" cy="311.00" r="4.1" fill="#92000c"/>
<circle cx="368.60" cy="317.80" r="4.1" fill="#620004"/>
<g stroke="#868686" stroke-width="1" fill="none">
<path d="M71.5,0 V515.4 H389.7 V0"/>
<path d="M71.5,0.5 H389.7" stroke="#9c9c9c"/>
</g>
<path d="M71.5,266.7 H389.7" stroke="#868686" stroke-width="1.6"/>
<path d="M71.80,515.4 v-4.6 M80.28,515.4 v-3 M88.76,515.4 v-3 M97.24,515.4 v-3 M105.72,515.4 v-3 M114.20,515.4 v-4.6 M122.68,515.4 v-3 M131.16,515.4 v-3 M139.64,515.4 v-3 M148.12,515.4 v-3 M156.60,515.4 v-4.6 M165.08,515.4 v-3 M173.56,515.4 v-3 M182.04,515.4 v-3 M190.52,515.4 v-3 M199.00,515.4 v-4.6 M207.48,515.4 v-3 M215.96,515.4 v-3 M224.44,515.4 v-3 M232.92,515.4 v-3 M241.40,515.4 v-4.6 M249.88,515.4 v-3 M258.36,515.4 v-3 M266.84,515.4 v-3 M275.32,515.4 v-3 M283.80,515.4 v-4.6 M292.28,515.4 v-3 M300.76,515.4 v-3 M309.24,515.4 v-3 M317.72,515.4 v-3 M326.20,515.4 v-4.6 M334.68,515.4 v-3 M343.16,515.4 v-3 M351.64,515.4 v-3 M360.12,515.4 v-3 M368.60,515.4 v-4.6 M377.08,515.4 v-3 M385.56,515.4 v-3" stroke="#606060" stroke-width="1" fill="none"/>
<path d="M71.80,0.5 v4.2 M80.28,0.5 v2.7 M88.76,0.5 v2.7 M97.24,0.5 v2.7 M105.72,0.5 v2.7 M114.20,0.5 v4.2 M122.68,0.5 v2.7 M131.16,0.5 v2.7 M139.64,0.5 v2.7 M148.12,0.5 v2.7 M156.60,0.5 v4.2 M165.08,0.5 v2.7 M173.56,0.5 v2.7 M182.04,0.5 v2.7 M190.52,0.5 v2.7 M199.00,0.5 v4.2 M207.48,0.5 v2.7 M215.96,0.5 v2.7 M224.44,0.5 v2.7 M232.92,0.5 v2.7 M241.40,0.5 v4.2 M249.88,0.5 v2.7 M258.36,0.5 v2.7 M266.84,0.5 v2.7 M275.32,0.5 v2.7 M283.80,0.5 v4.2 M292.28,0.5 v2.7 M300.76,0.5 v2.7 M309.24,0.5 v2.7 M317.72,0.5 v2.7 M326.20,0.5 v4.2 M334.68,0.5 v2.7 M343.16,0.5 v2.7 M351.64,0.5 v2.7 M360.12,0.5 v2.7 M368.60,0.5 v4.2 M377.08,0.5 v2.7 M385.56,0.5 v2.7" stroke="#808080" stroke-width="0.9" fill="none"/>
<path d="M71.5,18.40 h4.6 M71.5,142.60 h4.6 M71.5,453.10 h4.2 M389.7,18.40 h-4.6" stroke="#868686" stroke-width="0.8" fill="none"/>
<path d="M71.5,328.90 h4.6 M389.7,142.60 h-4.6 M389.7,391.00 h-4.6" stroke="#b0b0b0" stroke-width="0.9" fill="none"/>
<path d="M390.2,21.70 h-2 M390.2,25.30 h-2 M390.2,29.40 h-2 M390.2,34.40 h-2 M390.2,40.30 h-2 M390.2,47.60 h-2 M390.2,58.60 h-2 M390.2,75.80 h-2 M390.2,145.90 h-2 M390.2,149.50 h-2 M390.2,153.60 h-2 M390.2,158.60 h-2 M390.2,164.50 h-2 M390.2,171.80 h-2 M390.2,182.80 h-2 M390.2,200.00 h-2 M390.2,270.10 h-2 M390.2,273.70 h-2 M390.2,277.80 h-2 M390.2,282.80 h-2 M390.2,288.70 h-2 M390.2,296.00 h-2 M390.2,307.00 h-2 M390.2,324.20 h-2 M390.2,394.30 h-2 M390.2,397.90 h-2 M390.2,402.00 h-2 M390.2,407.00 h-2 M390.2,412.90 h-2 M390.2,420.20 h-2 M390.2,431.20 h-2 M390.2,448.40 h-2" stroke="#333" stroke-width="0.7" fill="none"/>
<text x="71.80" y="530.2" font-size="13" text-anchor="middle" fill="#000" stroke="#000" stroke-width="0.15">400</text>
<text x="114.20" y="530.2" font-size="13" text-anchor="middle" fill="#000" stroke="#000" stroke-width="0.15">500</text>
<text x="156.60" y="530.2" font-size="13" text-anchor="middle" fill="#000" stroke="#000" stroke-width="0.15">600</text>
<text x="199.00" y="530.2" font-size="13" text-anchor="middle" fill="#000" stroke="#000" stroke-width="0.15">700</text>
<text x="241.40" y="530.2" font-size="13" text-anchor="middle" fill="#000" stroke="#000" stroke-width="0.15">800</text>
<text x="283.80" y="530.2" font-size="13" text-anchor="middle" fill="#000" stroke="#000" stroke-width="0.15">900</text>
<text x="326.20" y="530.2" font-size="13" text-anchor="middle" fill="#000" stroke="#000" stroke-width="0.15">1000</text>
<text x="368.60" y="530.2" font-size="13" text-anchor="middle" fill="#000" stroke="#000" stroke-width="0.15">1100</text>
<text x="63.3" y="23.30" font-size="13" text-anchor="end" fill="#000" stroke="#000" stroke-width="0.15">10</text>
<text x="63.4" y="18.35" font-size="9.3" fill="#000" stroke="#000" stroke-width="0.15">5</text>
<text x="63.3" y="147.50" font-size="13" text-anchor="end" fill="#000" stroke="#000" stroke-width="0.15">10</text>
<text x="63.4" y="142.55" font-size="9.3" fill="#000" stroke="#000" stroke-width="0.15">3</text>
<text x="63.3" y="333.80" font-size="13" text-anchor="end" fill="#000" stroke="#000" stroke-width="0.15">10</text>
<text x="63.4" y="328.85" font-size="9.3" fill="#000" stroke="#000" stroke-width="0.15">3</text>
<text x="67.9" y="457.40" font-size="13" text-anchor="end" fill="#000" stroke="#000" stroke-width="0.15">10</text>
<text x="213.0" y="550.2" font-size="13.5" font-family="'Liberation Serif',serif" fill="#000" stroke="#000" stroke-width="0.15">λ</text>
<text x="222.8" y="550.2" font-size="13" fill="#000" stroke="#000" stroke-width="0.15">(nm)</text>
<g fill="#000"><rect x="95.9" y="19.3" width="2.5" height="22.8"/><rect x="104.4" y="19.3" width="2.5" height="22.8"/>
<rect x="100.4" y="292.5" width="2.5" height="18"/><rect x="93.2" y="308.8" width="16.9" height="2.2"/></g>
<g font-size="13" fill="#ff0000" stroke="#ff0000" stroke-width="0.2"><text x="129" y="83.2">2</text><text x="137.60" y="83.2" font-style="italic">Q</text><text x="146.40" y="86.3" font-size="9.9" letter-spacing="0.15" stroke="none">Mie</text></g>
<g font-size="13" fill="#ff0000" stroke="#ff0000" stroke-width="0.2"><text x="128.20" y="184.6" font-style="italic">Q</text><text x="137.00" y="187.7" font-size="9.9" letter-spacing="0.15" stroke="none">Mie</text><text x="152.90" y="184.6">/<tspan dx="0.7">2</tspan></text></g>
<g font-size="13" fill="#ff0000" stroke="#ff0000" stroke-width="0.2"><text x="129" y="326.3">2</text><text x="137.60" y="326.3" font-style="italic">Q</text><text x="146.40" y="329.40000000000003" font-size="9.9" letter-spacing="0.15" stroke="none">Mie</text></g>
<g font-size="13" fill="#ff0000" stroke="#ff0000" stroke-width="0.2"><text x="128.20" y="420.6" font-style="italic">Q</text><text x="137.00" y="423.70000000000005" font-size="9.9" letter-spacing="0.15" stroke="none">Mie</text><text x="152.90" y="420.6">/<tspan dx="0.7">2</tspan></text></g>
<path d="M283.2,175.5 H305.6" stroke="#333" stroke-width="0.85"/>
<path d="M283.3,186.2 H305.6" stroke="#ff3838" stroke-width="0.9" stroke-dasharray="5.0 3.6"/>
<path d="M283.6,207.39999999999998 H302" stroke="#222" stroke-width="1" stroke-dasharray="1.3 4.1"/>
<text x="315.8" y="185.0" font-size="13" fill="#000" stroke="#000" stroke-width="0.15">2300 K</text>
<text x="315.8" y="212.0" font-size="13" fill="#000" stroke="#000" stroke-width="0.15">2776 K</text>
<path d="M283.2,431.7 H305.6" stroke="#333" stroke-width="0.85"/>
<path d="M283.3,442.4 H305.6" stroke="#ff3838" stroke-width="0.9" stroke-dasharray="5.0 3.6"/>
<path d="M283.6,463.59999999999997 H302" stroke="#222" stroke-width="1" stroke-dasharray="1.3 4.1"/>
<text x="315.8" y="441.2" font-size="13" fill="#000" stroke="#000" stroke-width="0.15">2305 K</text>
<text x="315.8" y="468.2" font-size="13" fill="#000" stroke="#000" stroke-width="0.15">2532 K</text>
<g transform="translate(36.7,301.3) rotate(-90)" fill="#000">
<path d="M5.5,-8.0 L1.9,-3.3 L5.5,1.4" stroke="#111" stroke-width="0.95" stroke-linejoin="round" fill="none"/>
<text x="6.0" y="0" font-size="13.4" font-style="italic" stroke="#000" stroke-width="0.12">N</text>
<circle cx="10.6" cy="-11.9" r="0.95"/>
<path d="M15.1,-8.0 L18.6,-3.3 L15.1,1.4" stroke="#111" stroke-width="0.95" stroke-linejoin="round" fill="none"/>
<g font-size="8.8" font-family="'Liberation Serif',serif" stroke="#000" stroke-width="0.15"><text x="18.7" y="1.7">Ω</text><text x="26.8" y="1.7">,</text><text x="29.9" y="1.7" font-style="italic">L</text></g>
<text x="39.0" y="0" font-size="13" letter-spacing="0.15" stroke="#000" stroke-width="0.25">(<tspan font-style="italic">γ</tspan>/s·nm)</text>
</g>
</svg>
</body></html>
